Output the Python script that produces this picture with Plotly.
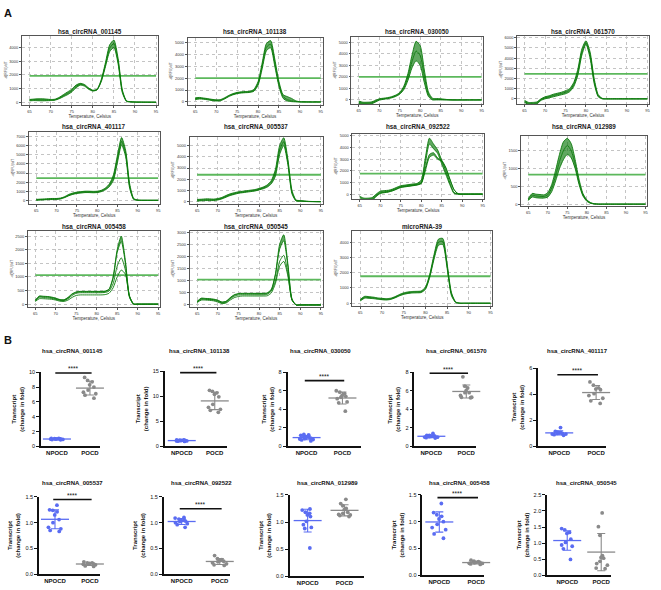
import numpy as np
import plotly.graph_objects as go

W, H = 661, 590
FONT = "Liberation Sans, Arial, sans-serif"

# ---------------- Panel A data: melt curves ----------------
TEMPS = [65, 66, 67, 68, 69, 70, 71, 72, 73, 74, 75, 76, 77, 78, 79, 80,
         81, 82, 83, 84, 85, 86, 87, 88, 89, 90, 92, 95]
X_TICKS = [65, 70, 75, 80, 85, 90, 95]

melt_titles = ["hsa_circRNA_001145", "hsa_circRNA_101138", "hsa_circRNA_030050",
               "hsa_circRNA_061570", "hsa_circRNA_401117", "hsa_circRNA_005537",
               "hsa_circRNA_092522", "hsa_circRNA_012989", "hsa_circRNA_005458",
               "hsa_circRNA_050545", "microRNA-39"]
melt_thresholds = [1930, 2000, 2000, 2450, 2450, 2400, 1750, 830, 1070, 1050, 1770]

p01_lo = [100, 120, 110, 100, 110, 120, 150, 250, 400, 550, 750, 1050, 1250, 1180, 950, 820, 900, 1500, 2600, 3700, 4000, 2800, 700, 60, 20, 10, 5, 0]
p01_md = [150, 180, 180, 170, 160, 160, 180, 300, 480, 650, 850, 1150, 1320, 1240, 1000, 850, 920, 1580, 2750, 3950, 4300, 3000, 800, 80, 30, 12, 5, 0]
p01_hi = [200, 230, 250, 250, 230, 200, 220, 350, 550, 750, 950, 1250, 1380, 1300, 1050, 880, 950, 1650, 2900, 4200, 4550, 3200, 900, 100, 40, 15, 5, 0]

p02_lo = [200, 250, 230, 180, 120, 80, 100, 250, 450, 600, 700, 750, 780, 800, 900, 1400, 2800, 4300, 4550, 3000, 1300, 300, 80, 30, 10, 0, 0, 0]
p02_md = [280, 310, 280, 230, 170, 130, 150, 300, 500, 650, 750, 800, 830, 850, 970, 1550, 3050, 4600, 4850, 3300, 1500, 450, 200, 100, 40, 10, 0, 0]
p02_hi = [350, 380, 330, 280, 220, 180, 200, 350, 550, 700, 800, 850, 880, 900, 1050, 1700, 3300, 4900, 5150, 3600, 1700, 600, 450, 300, 100, 20, 0, 0]

p03_lo = [-300, -380, -380, -350, -200, -20, 50, 100, 180, 300, 500, 900, 1700, 2800, 3400, 3000, 1500, 300, 0, 0, 0, 0, 0, 0, 0, 0, 0, 0]
p03_md = [-200, -290, -290, -260, -120, 40, 100, 150, 230, 360, 570, 1050, 2000, 3350, 4250, 3850, 2050, 500, 70, 50, 40, 20, 10, 0, 0, 0, 0, 0]
p03_hi = [-100, -200, -200, -180, -50, 100, 150, 200, 280, 420, 650, 1200, 2300, 3900, 5100, 4700, 2600, 700, 150, 120, 100, 60, 20, 0, 0, 0, 0, 0]

p04_lo = [-350, -550, -550, -500, -150, 0, 100, 200, 300, 400, 500, 700, 1200, 2300, 4300, 5350, 4000, 1500, 200, 0, 0, 0, 0, 0, 0, 0, 0, 0]
p04_md = [-250, -450, -450, -400, -80, 100, 200, 330, 430, 530, 650, 850, 1400, 2600, 4600, 5520, 4300, 1750, 300, 20, 0, 0, 0, 0, 0, 0, 0, 0]
p04_hi = [-150, -350, -350, -300, 0, 200, 300, 450, 550, 650, 800, 1000, 1600, 2900, 4900, 5700, 4600, 2000, 400, 50, 0, 0, 0, 0, 0, 0, 0, 0]

p05_lo = [0, 20, 50, 80, 80, 100, 150, 300, 500, 650, 750, 800, 850, 850, 830, 850, 950, 1150, 1500, 2200, 4200, 6100, 4800, 1300, 80, 0, 0, 0]
p05_md = [50, 80, 100, 130, 140, 150, 200, 350, 570, 720, 820, 880, 920, 920, 900, 920, 1020, 1250, 1650, 2500, 4600, 6500, 5150, 1550, 140, 15, 0, 0]
p05_hi = [100, 130, 150, 180, 200, 200, 250, 400, 650, 800, 900, 950, 1000, 1000, 980, 1000, 1100, 1350, 1800, 2800, 5000, 6900, 5500, 1800, 200, 30, 0, 0]

p06_lo = [50, 80, 100, 100, 100, 150, 250, 400, 550, 650, 750, 800, 850, 900, 950, 1050, 1150, 1300, 1600, 2300, 4200, 5000, 3300, 700, 60, 40, 10, 0]
p06_md = [120, 150, 170, 170, 160, 210, 310, 470, 620, 720, 810, 860, 910, 960, 1010, 1110, 1220, 1400, 1750, 2600, 4600, 5350, 3550, 850, 100, 70, 20, 0]
p06_hi = [200, 220, 250, 250, 230, 280, 380, 550, 700, 800, 880, 930, 980, 1030, 1080, 1180, 1300, 1500, 1900, 2900, 5000, 5700, 3800, 1000, 150, 100, 30, 0]

p07_b_lo = [-500, -600, -600, -550, -200, 50, 120, 180, 280, 420, 570, 620, 670, 720, 780, 900, 2000, 3150, 3350, 3000, 2800, 2200, 1250, 380, 30, 0, 0, 0]
p07_b_hi = [-400, -550, -550, -500, -150, 100, 150, 200, 300, 450, 600, 650, 700, 750, 800, 950, 2200, 3400, 3550, 3100, 2900, 2300, 1300, 400, 30, 0, 0, 0]
p07_a_lo = [-300, -450, -450, -400, -100, 150, 200, 250, 350, 500, 650, 700, 750, 800, 850, 950, 2600, 4300, 3900, 3500, 2600, 1700, 800, 60, 0, 0, 0, 0]
p07_a_hi = [-200, -350, -350, -300, 0, 250, 300, 330, 430, 580, 720, 770, 820, 870, 920, 1200, 3100, 4800, 4300, 3800, 2900, 2000, 1000, 150, 0, 0, 0, 0]

p08_lo = [100, 200, 180, 170, 170, 200, 350, 650, 1000, 1250, 1400, 1300, 1000, 550, 230, 80, 20, 5, 0, 0, 0, 0, 0, 0, 0, 0, 0, 0]
p08_md = [120, 250, 230, 220, 215, 260, 450, 800, 1200, 1500, 1650, 1500, 1120, 620, 260, 100, 30, 8, 0, 0, 0, 0, 0, 0, 0, 0, 0, 0]
p08_hi = [150, 300, 280, 270, 260, 320, 550, 950, 1400, 1750, 1850, 1700, 1250, 700, 300, 120, 40, 10, 0, 0, 0, 0, 0, 0, 0, 0, 0, 0]

p09_lo = [100, 200, 200, 190, 180, 150, 110, 100, 150, 250, 320, 340, 340, 340, 340, 340, 340, 350, 400, 600, 1000, 1250, 1100, 300, 20, 0, 0, 0]
p09_md = [120, 250, 240, 230, 210, 180, 140, 130, 200, 320, 400, 420, 420, 420, 420, 420, 420, 430, 480, 750, 1400, 1700, 1250, 250, 0, 0, 0, 0]
p09_h1 = [130, 280, 270, 260, 240, 200, 160, 150, 230, 360, 430, 450, 450, 450, 450, 450, 450, 460, 530, 950, 1900, 2300, 1500, 280, 0, 0, 0, 0]
p09_h2 = [150, 300, 290, 280, 260, 220, 170, 160, 250, 380, 450, 470, 470, 470, 470, 470, 470, 480, 550, 1000, 2000, 2500, 1600, 300, 0, 0, 0, 0]

p10_lo = [100, 200, 200, 190, 170, 120, 60, 80, 200, 300, 350, 370, 370, 370, 370, 370, 370, 380, 500, 900, 1600, 1800, 1200, 200, 0, 0, 0, 0]
p10_md = [120, 230, 230, 220, 200, 150, 80, 110, 250, 360, 410, 420, 420, 420, 420, 420, 420, 440, 580, 1000, 1800, 2050, 1300, 200, 0, 0, 0, 0]
p10_h1 = [140, 260, 250, 240, 220, 180, 110, 140, 280, 400, 450, 460, 460, 460, 460, 460, 460, 480, 620, 1250, 2300, 2650, 1600, 230, 0, 0, 0, 0]
p10_h2 = [150, 280, 270, 260, 240, 200, 120, 150, 300, 420, 470, 480, 480, 480, 480, 480, 480, 500, 650, 1300, 2500, 2900, 1700, 250, 0, 0, 0, 0]

p11_lo = [150, 330, 320, 300, 260, 230, 210, 250, 350, 480, 580, 640, 670, 680, 700, 900, 1700, 2900, 3800, 3850, 2300, 500, 40, 0, 0, 0, 0, 0]
p11_md = [200, 390, 375, 350, 305, 275, 255, 290, 390, 525, 630, 690, 720, 730, 750, 975, 1800, 3050, 4000, 4050, 2450, 600, 60, 0, 0, 0, 0, 0]
p11_hi = [250, 450, 430, 400, 350, 320, 300, 330, 430, 570, 680, 740, 770, 780, 800, 1050, 1900, 3200, 4200, 4250, 2600, 700, 80, 0, 0, 0, 0, 0]

# bands of curves (each band filled between its curves)
melt_bands = [
    [[p01_lo, p01_md, p01_hi]],
    [[p02_lo, p02_md, p02_hi]],
    [[p03_lo, p03_md, p03_hi]],
    [[p04_lo, p04_md, p04_hi]],
    [[p05_lo, p05_md, p05_hi]],
    [[p06_lo, p06_md, p06_hi]],
    [[p07_b_lo, p07_b_hi], [p07_a_lo, p07_a_hi]],
    [[p08_lo, p08_md, p08_hi]],
    [[p09_lo], [p09_md], [p09_h1, p09_h2]],
    [[p10_lo], [p10_md], [p10_h1, p10_h2]],
    [[p11_lo, p11_md, p11_hi]],
]

# ---------------- Panel B data: fold change ----------------
groups = ["NPOCD", "POCD"]
b_titles = ["hsa_circRNA_001145", "hsa_circRNA_101138", "hsa_circRNA_030050",
            "hsa_circRNA_061570", "hsa_circRNA_401117", "hsa_circRNA_005537",
            "hsa_circRNA_092522", "hsa_circRNA_012989", "hsa_circRNA_005458",
            "hsa_circRNA_050545"]
b_sig = ["****", "****", "****", "****", "****", "****", "****", "", "****", ""]

b01_np = [0.95, 1.0, 1.05, 1.1, 0.9, 1.0, 0.98, 1.02, 1.08, 0.92, 1.0]
b01_po = [9.3, 8.9, 8.7, 8.3, 8.0, 7.6, 7.3, 7.1, 6.9, 6.5]
b02_np = [1.0, 1.1, 1.2, 1.3, 1.15, 1.25, 1.1, 1.2, 1.3, 1.05, 1.2]
b02_po = [11.2, 11.0, 10.7, 10.4, 9.9, 8.4, 7.8, 7.4, 7.2, 6.8]
b03_np = [0.6, 0.7, 0.8, 0.9, 1.0, 1.1, 1.2, 1.3, 0.85, 1.0, 1.25, 0.75]
b03_po = [6.0, 5.85, 5.7, 5.5, 5.4, 5.3, 5.15, 4.8, 4.7, 3.8]
b04_np = [1.4, 1.2, 1.15, 1.1, 1.05, 1.0, 0.95, 0.9, 1.1, 1.0, 1.2]
b04_po = [7.5, 6.5, 6.3, 6.0, 5.8, 5.8, 5.5, 5.3, 5.25, 5.3]
b05_np = [1.45, 1.15, 1.1, 1.05, 1.0, 0.95, 0.9, 0.85, 1.0, 0.95, 1.05]
b05_po = [4.95, 4.7, 4.5, 4.4, 4.35, 4.05, 3.9, 3.7, 3.5, 3.3]
b06_np = [1.34, 1.25, 1.24, 1.21, 1.15, 1.06, 0.91, 0.88, 0.85, 0.83, 1.0]
b06_po = [0.24, 0.22, 0.21, 0.2, 0.19, 0.18, 0.16, 0.15, 0.22, 0.2]
b07_np = [1.1, 1.09, 1.07, 1.05, 1.04, 1.03, 1.02, 1.0, 0.98, 0.96, 0.91]
b07_po = [0.36, 0.3, 0.28, 0.26, 0.25, 0.24, 0.22, 0.2, 0.18, 0.17]
b08_np = [1.24, 1.22, 1.18, 1.16, 1.13, 1.1, 1.01, 0.95, 0.9, 0.88, 0.52]
b08_po = [1.42, 1.34, 1.3, 1.25, 1.23, 1.18, 1.16, 1.13, 1.12, 1.1, 1.14]
b09_np = [1.34, 1.17, 1.13, 1.1, 1.05, 1.0, 0.95, 0.89, 0.85, 0.77, 0.69]
b09_po = [0.28, 0.26, 0.25, 0.24, 0.23, 0.22, 0.21, 0.2, 0.22, 0.24]
b10_np = [1.45, 1.41, 1.33, 1.3, 1.12, 1.02, 0.94, 0.9, 0.82, 0.49]
b10_po = [1.94, 1.51, 1.24, 0.61, 0.53, 0.43, 0.36, 0.31, 0.22, 0.55, 0.2]

b_data = [(b01_np, b01_po), (b02_np, b02_po), (b03_np, b03_po), (b04_np, b04_po),
          (b05_np, b05_po), (b06_np, b06_po), (b07_np, b07_po), (b08_np, b08_po),
          (b09_np, b09_po), (b10_np, b10_po)]

# ---------------- layout geometry (pixels) ----------------
# x0, x1, ytop, ybot, ymin, ymax, dtick, title_y
melt_geom = [
    (22, 158, 33, 103, -200, 4870, 1000, 29),
    (188, 323, 35, 103, -250, 5400, 1000, 29),
    (352, 484, 34, 102, -350, 5500, 1000, 29),
    (518, 650, 33, 102, -500, 6200, 1000, 29),
    (29, 160, 130, 203, -400, 7550, 1000, 125),
    (190, 323, 135, 203, -200, 5800, 1000, 125),
    (353, 485, 132, 198, -420, 5190, 1000, 125),
    (522, 648, 134, 205, -50, 1925, 500, 125),
    (28, 160, 230, 307, -100, 2700, 500, 226),
    (190, 323, 230, 307, -80, 3070, 500, 226),
    (353, 493, 230, 306, -175, 4760, 1000, 226),
]
# x0, x1, ytop, ybot, ymax, dtick, xr0, xr1, sig_y, title_x, title_y
b_geom = [
    (41, 100, 373, 448, 10, 2, -0.485, 1.30, 9.9, 73, 352),
    (165, 227, 372, 448, 15, 5, -0.515, 1.36, 14.7, 200, 352),
    (288, 362, 373, 448, 8, 2, -0.53, 1.53, 7.1, 321, 352),
    (415, 477, 373, 448, 8, 2, -0.486, 1.286, 7.9, 457, 352),
    (539, 607, 369, 448, 6, 2, -0.57, 1.27, 5.5, 578, 352),
    (39, 100, 499, 577, 1.5, 0.5, -0.46, 1.286, 1.45, 73, 485),
    (164, 230, 499, 577, 1.5, 0.5, -0.47, 1.26, 1.27, 202, 485),
    (290, 365, 497, 579, 1.5, 0.5, -0.49, 1.54, None, 328, 485),
    (423, 485, 497, 578, 1.5, 0.5, -0.46, 1.22, 1.45, 460, 485),
    (548, 612, 497, 578, 2.5, 0.5, -0.59, 1.29, None, 587, 485),
]

def fx(p):
    return p / W

def fy(p):
    return 1 - p / H

fig = go.Figure()
axes = {}
annotations = []
k = 0

LINE_G = "#0b7a0b"
FILL_G = "rgba(0,115,0,0.62)"
THR_G = "#5cb85c"
GRID = "#c4c4c4"

for i, title in enumerate(melt_titles):
    k += 1
    x0, x1, yt, yb, ymin, ymax, dt, ty = melt_geom[i]
    xa = "xaxis" if k == 1 else f"xaxis{k}"
    ya = "yaxis" if k == 1 else f"yaxis{k}"
    xr = "x" if k == 1 else f"x{k}"
    yr = "y" if k == 1 else f"y{k}"
    axes[xa] = dict(domain=[fx(x0), fx(x1)], anchor=yr, range=[63.2, 95.4],
                    tickvals=X_TICKS, showgrid=True, gridcolor=GRID, griddash="dot",
                    gridwidth=0.7, showline=True, mirror=True, linecolor="#555",
                    linewidth=0.8, ticks="outside", ticklen=2, tickcolor="#555",
                    tickfont=dict(size=4, color="#333", family=FONT), zeroline=False,
                    title=dict(text="Temperature, Celsius",
                               font=dict(size=4.5, color="#333", family=FONT), standoff=1))
    axes[ya] = dict(domain=[fy(yb), fy(yt)], anchor=xr, range=[ymin, ymax], dtick=dt,
                    tick0=0, showgrid=True, gridcolor=GRID, griddash="dot",
                    gridwidth=0.7, showline=True, mirror=True, linecolor="#555",
                    linewidth=0.8, ticks="outside", ticklen=2, tickcolor="#555",
                    tickfont=dict(size=4, color="#333", family=FONT), zeroline=False,
                    title=dict(text="-d(RFU)/dT", font=dict(size=3.5, color="#333", family=FONT),
                               standoff=2))
    # threshold
    fig.add_trace(go.Scatter(x=[TEMPS[0], TEMPS[-1]], y=[melt_thresholds[i]] * 2,
                             mode="lines", line=dict(color=THR_G, width=1.8),
                             xaxis=xr, yaxis=yr, showlegend=False, hoverinfo="skip"))
    for band in melt_bands[i]:
        for j, curve in enumerate(band):
            fig.add_trace(go.Scatter(
                x=TEMPS, y=curve, mode="lines",
                line=dict(color=LINE_G, width=0.9, shape="spline", smoothing=0.65),
                fill="tonexty" if j > 0 else "none", fillcolor=FILL_G,
                xaxis=xr, yaxis=yr, showlegend=False, hoverinfo="skip"))
    annotations.append(dict(text=f"<b>{title}</b>", x=fx((x0 + x1) / 2), y=fy(ty),
                            xref="paper", yref="paper", showarrow=False,
                            xanchor="center", yanchor="middle",
                            font=dict(size=6.3, color="#222", family=FONT)))

BLUE = "#5a6cf2"
GREY = "#8a8a8a"

for i, title in enumerate(b_titles):
    k += 1
    x0, x1, yt, yb, ymax, dt, xr0, xr1, sig_y, tx, ty = b_geom[i]
    xa = f"xaxis{k}"
    ya = f"yaxis{k}"
    xr = f"x{k}"
    yr = f"y{k}"
    axes[xa] = dict(domain=[fx(x0), fx(x1)], anchor=yr, range=[xr0, xr1],
                    tickvals=[0, 1], ticktext=[f"<b>{g}</b>" for g in groups],
                    showgrid=False, zeroline=False, showline=True, linecolor="#111",
                    linewidth=1.6, ticks="", ticklen=0,
                    tickfont=dict(size=6, color="#111", family=FONT))
    axes[ya] = dict(domain=[fy(yb), fy(yt)], anchor=xr, range=[0, ymax], dtick=dt, tick0=0,
                    tickformat=".1f" if dt < 1 else "d",
                    showgrid=False, zeroline=False, showline=True, linecolor="#111",
                    linewidth=1.6, ticks="outside", ticklen=3, tickwidth=1.2,
                    tickcolor="#111", tickfont=dict(size=5.5, color="#111", family=FONT),
                    title=dict(text="<b>Transcript<br>(change in fold)</b>",
                               font=dict(size=6, color="#111", family=FONT), standoff=4))
    for gi, (vals, col) in enumerate(zip(b_data[i], [BLUE, GREY])):
        fig.add_trace(go.Box(x=[gi] * len(vals), y=vals, orientation="v",
                             boxpoints="all", jitter=0.85, pointpos=0, width=0.55,
                             fillcolor="rgba(0,0,0,0)",
                             line=dict(color="rgba(0,0,0,0)", width=0),
                             marker=dict(color=col, size=3.8),
                             xaxis=xr, yaxis=yr, showlegend=False, hoverinfo="skip"))
        m = float(np.mean(vals))
        sd = float(np.std(vals, ddof=1))
        fig.add_trace(go.Scatter(x=[gi], y=[m], mode="markers",
                                 marker=dict(symbol="line-ew", size=20,
                                             line=dict(color=col, width=1.3)),
                                 error_y=dict(type="data", array=[sd], visible=True,
                                              color=col, thickness=1.1, width=4),
                                 xaxis=xr, yaxis=yr, showlegend=False, hoverinfo="skip",
                                 cliponaxis=False))
    if sig_y is not None and b_sig[i]:
        fig.add_trace(go.Scatter(x=[-0.05, 1.05], y=[sig_y, sig_y], mode="lines",
                                 line=dict(color="#111", width=1.7), xaxis=xr, yaxis=yr,
                                 showlegend=False, hoverinfo="skip", cliponaxis=False))
        annotations.append(dict(text=b_sig[i], x=0.5, y=sig_y, xref=xr, yref=yr,
                                showarrow=False, yshift=4, xanchor="center",
                                yanchor="middle",
                                font=dict(size=6.5, color="#111", family=FONT)))
    annotations.append(dict(text=f"<b>{title}</b>", x=fx(tx), y=fy(ty),
                            xref="paper", yref="paper", showarrow=False,
                            xanchor="center", yanchor="middle",
                            font=dict(size=6, color="#111", family=FONT)))

annotations.append(dict(text="<b>A</b>", x=fx(8), y=fy(10), xref="paper", yref="paper",
                        showarrow=False, xanchor="center", yanchor="middle",
                        font=dict(size=11, color="#111", family=FONT)))
annotations.append(dict(text="<b>B</b>", x=fx(8), y=fy(340), xref="paper", yref="paper",
                        showarrow=False, xanchor="center", yanchor="middle",
                        font=dict(size=11, color="#111", family=FONT)))

fig.update_layout(width=W, height=H, margin=dict(l=0, r=0, t=0, b=0),
                  paper_bgcolor="white", plot_bgcolor="white", boxmode="overlay",
                  showlegend=False, annotations=annotations,
                  font=dict(family=FONT), **axes)

fig.write_html("out.html", config={"displayModeBar": False},
               post_script="document.body.style.margin='0px';document.body.style.overflow='hidden';")
